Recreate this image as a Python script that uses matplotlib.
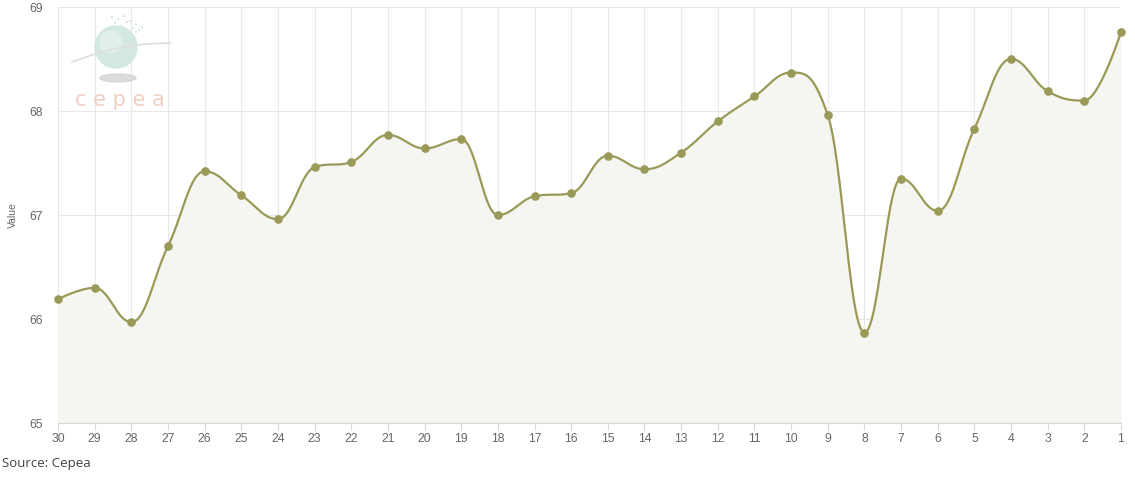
import numpy as np
import matplotlib.pyplot as plt
from matplotlib.patches import Circle, Ellipse

# dados (dias, do mais antigo ao mais recente)
days = [30, 29, 28, 27, 26, 25, 24, 23, 22, 21, 20, 19, 18, 17, 16,
        15, 14, 13, 12, 11, 10, 9, 8, 7, 6, 5, 4, 3, 2, 1]
values = [66.19, 66.30, 65.97, 66.70, 67.42, 67.19, 66.96, 67.46, 67.51, 67.77,
          67.64, 67.73, 67.00, 67.18, 67.21, 67.57, 67.44, 67.60, 67.90, 68.14,
          68.37, 67.96, 65.87, 67.35, 67.04, 67.83, 68.50, 68.19, 68.10, 68.76]
y_ticks = [65, 66, 67, 68, 69]

line_color = '#9a9a58'
grey_txt = '#666666'


def spline(xs, ys, smoothing=1.5, steps=30):
    # curva tipo highcharts: bezier cubica com pontos de controle suavizados
    n = len(xs)
    denom = smoothing + 1
    lc = [None] * n
    rc = [None] * n
    for i in range(n):
        x, y = xs[i], ys[i]
        if 0 < i < n - 1:
            lx, ly = xs[i - 1], ys[i - 1]
            nx, ny = xs[i + 1], ys[i + 1]
            lcx = (smoothing * x + lx) / denom
            lcy = (smoothing * y + ly) / denom
            rcx = (smoothing * x + nx) / denom
            rcy = (smoothing * y + ny) / denom
            if rcx != lcx:
                corr = (rcy - lcy) * (rcx - x) / (rcx - lcx) + y - rcy
                lcy += corr
                rcy += corr
            if lcy > ly and lcy > y:
                lcy = max(ly, y)
                rcy = 2 * y - lcy
            elif lcy < ly and lcy < y:
                lcy = min(ly, y)
                rcy = 2 * y - lcy
            if rcy > ny and rcy > y:
                rcy = max(ny, y)
                lcy = 2 * y - rcy
            elif rcy < ny and rcy < y:
                rcy = min(ny, y)
                lcy = 2 * y - rcy
            lc[i] = (lcx, lcy)
            rc[i] = (rcx, rcy)
        else:
            lc[i] = (x, y)
            rc[i] = (x, y)
    px, py = [xs[0]], [ys[0]]
    t = np.linspace(0, 1, steps)[1:]
    for i in range(1, n):
        p0 = np.array([xs[i - 1], ys[i - 1]])
        p1 = np.array(rc[i - 1])
        p2 = np.array(lc[i])
        p3 = np.array([xs[i], ys[i]])
        for tt in t:
            p = ((1 - tt) ** 3) * p0 + 3 * ((1 - tt) ** 2) * tt * p1 \
                + 3 * (1 - tt) * tt ** 2 * p2 + tt ** 3 * p3
            px.append(p[0])
            py.append(p[1])
    return np.array(px), np.array(py)


xpos = np.arange(len(days))
sx, sy = spline(list(xpos.astype(float)), values)

fig = plt.figure(figsize=(11.35, 4.78), dpi=100)
ax = fig.add_axes([58 / 1135, 55 / 478, 1063 / 1135, 416 / 478])

ax.fill_between(sx, sy, 65, color='#f5f5f1', zorder=1)
ax.plot(sx, sy, color=line_color, lw=1.6, zorder=3)
ax.plot(xpos, values, 'o', color=line_color, ms=5.2, zorder=4, clip_on=False)

ax.set_xlim(0, len(days) - 1)
ax.set_ylim(65, 69)
ax.set_xticks(xpos)
ax.set_xticklabels([str(d) for d in days], family='Liberation Sans')
ax.set_yticks(y_ticks)
ax.set_yticklabels([str(v) for v in y_ticks], family='Liberation Sans')
ax.grid(True, color='#e8e8e8', lw=0.8, zorder=0)
ax.set_axisbelow(True)
for s in ['top', 'right', 'left']:
    ax.spines[s].set_visible(False)
ax.spines['bottom'].set_color('#d8d8d8')
ax.tick_params(axis='x', colors='#d8d8d8', labelcolor=grey_txt, labelsize=8.8,
               length=5, pad=2)
ax.tick_params(axis='y', length=0, labelcolor=grey_txt, labelsize=8.8, pad=11)
ax.set_ylabel('Value', color=grey_txt, fontsize=7.5, family='Liberation Sans')
ax.yaxis.set_label_coords(-0.038, 0.5)

# logo aproximado
lax = fig.add_axes([0, 0, 1, 1], zorder=5)
lax.set_xlim(0, 1135)
lax.set_ylim(478, 0)
lax.axis('off')
lax.add_patch(Ellipse((118, 78), 36, 8, color='#d4d4d4', alpha=0.8))
lax.add_patch(Circle((116, 47), 21, color='#d3e8df'))
lax.add_patch(Circle((111, 42), 11, color='#e2f0ea'))
ang = np.linspace(0, 1, 50)
lax.plot(72 + 98 * ang, 62 - 19 * ang - 5 * np.sin(np.pi * ang), color='#dedede', lw=1.2)
dots_x = [112, 118, 124, 130, 136, 115, 121, 127, 133, 139, 118, 124, 130, 136, 121, 127, 142, 133]
dots_y = [17, 19, 16, 21, 24, 23, 26, 22, 28, 30, 31, 33, 35, 32, 37, 39, 27, 40]
lax.scatter(dots_x, dots_y, s=3, marker='s', color='#d6e9e1', linewidths=0)
lax.text(120, 100, 'c e p e a', color='#f2cfc2', fontsize=15, ha='center', va='center',
         family='DejaVu Sans')

fig.text(2 / 1135, 1 - 463 / 478, 'Source: Cepea', color='#404040', fontsize=9.5,
         family='Open Sans', va='center')

fig.savefig('out.png', dpi=100)
